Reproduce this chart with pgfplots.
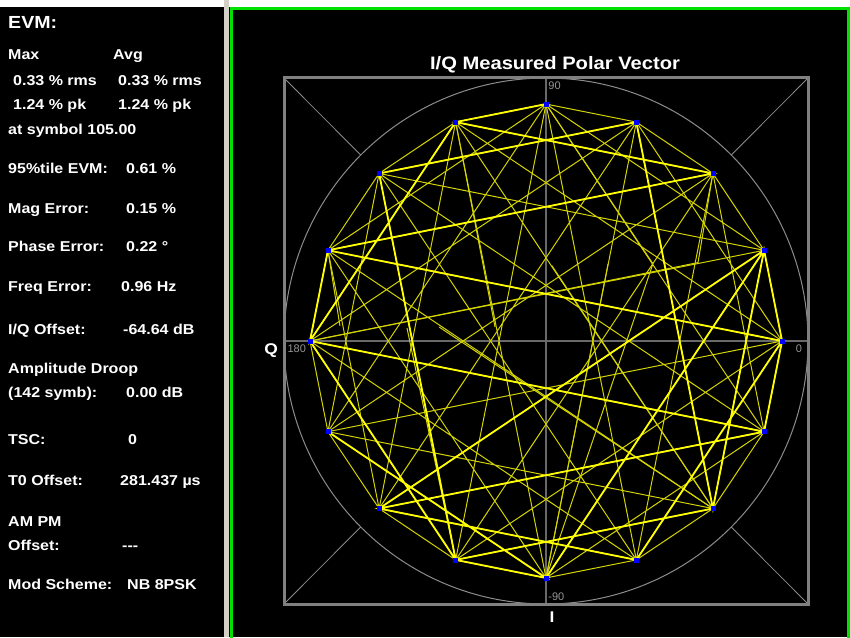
\documentclass[border=0pt]{standalone}
\usepackage{pgfplots}
\pgfplotsset{compat=1.18}
\usepackage{fontspec}
\setmainfont{Liberation Sans}
\newfontfamily\pf[FakeStretch=1.12]{Liberation Sans}
\definecolor{grn}{RGB}{0,225,0}
\definecolor{thinyel}{RGB}{212,212,0}
\definecolor{yel}{RGB}{255,255,0}
\definecolor{boxgray}{RGB}{128,128,128}
\definecolor{circgray}{RGB}{140,140,140}
\definecolor{crossgray}{RGB}{105,105,105}
\definecolor{labgray}{RGB}{150,150,150}
\definecolor{wingray}{RGB}{212,208,200}
\newcommand{\tx}[3]{\node[anchor=base west, inner sep=0pt, text=white, font=\pf\bfseries\fontsize{14.3}{14.3}\selectfont] at ({#1},{637-#2}) {#3};}
\begin{document}
\begin{tikzpicture}[x=1pt,y=1pt]
\useasboundingbox (0,0) rectangle (850,637);
\fill[white] (0,0) rectangle (850,637);
\fill[black] (0,0) rectangle (224,630);
\fill[wingray] (224,0) rectangle (229,637);
\fill[black] (229,0) rectangle (850,630);
\draw[grn, line width=3pt] (231.5,-5) -- (231.5,628.5) -- (848.5,628.5) -- (848.5,-5);
% left panel text
\node[anchor=base west, inner sep=0pt, text=white, font=\pf\bfseries\fontsize{17.5}{17.5}\selectfont] at (8,{637-29}) {EVM:};
\tx{8}{60}{Max}\tx{113}{60}{Avg}
\tx{13}{86}{0.33 \% rms}\tx{118}{86}{0.33 \% rms}
\tx{13}{110}{1.24 \% pk}\tx{118}{110}{1.24 \% pk}
\tx{8}{135}{at symbol 105.00}
\tx{8}{174}{95\%tile EVM:}\tx{126}{174}{0.61 \%}
\tx{8}{214}{Mag Error:}\tx{126}{214}{0.15 \%}
\tx{8}{252}{Phase Error:}\tx{126}{252}{0.22 °}
\tx{8}{292}{Freq Error:}\tx{121}{292}{0.96 Hz}
\tx{8}{335}{I/Q Offset:}\tx{123}{335}{-64.64 dB}
\tx{8}{374}{Amplitude Droop}
\tx{8}{398}{(142 symb):}\tx{126}{398}{0.00 dB}
\tx{8}{445}{TSC:}\tx{128}{445}{0}
\tx{8}{485}{T0 Offset:}\tx{120}{485}{281.437 µs}
\tx{8}{526}{AM PM}
\tx{8}{550}{Offset:}\tx{122}{550}{-{}-{}-}
\tx{8}{589}{Mod Scheme:}\tx{127}{589}{NB 8PSK}
% title
\node[anchor=base, inner sep=0pt, text=white, font=\pf\bfseries\fontsize{18}{18}\selectfont] at (555,{637-70}) {I/Q Measured Polar Vector};
\begin{axis}[at={(284pt,33pt)}, anchor=south west, scale only axis,
  width=524pt, height=526pt,
  xmin=-1.11, xmax=1.11, ymin=-1.11, ymax=1.11,
  hide axis, clip=false, unbounded coords=jump]
% grid decorations
\draw[circgray, line width=1pt] (axis cs:0,0) circle[radius=1.11];
\draw[circgray, line width=0.8pt] (axis cs:-1.11,1.11) -- (axis cs:-0.785,0.785);
\draw[circgray, line width=0.8pt] (axis cs:1.11,1.11) -- (axis cs:0.785,0.785);
\draw[circgray, line width=0.8pt] (axis cs:-1.11,-1.11) -- (axis cs:-0.785,-0.785);
\draw[circgray, line width=0.8pt] (axis cs:1.11,-1.11) -- (axis cs:0.785,-0.785);
\draw[crossgray, line width=1.6pt] (axis cs:-1.11,0) -- (axis cs:1.11,0);
\draw[crossgray, line width=1.6pt] (axis cs:0,-1.11) -- (axis cs:0,1.11);
\draw[boxgray, line width=3pt] (rel axis cs:0,0) rectangle (rel axis cs:1,1);
\node[anchor=north west, inner sep=1pt, text=labgray, font=\fontsize{11}{11}\selectfont] at (axis cs:0.005,1.098) {90};
\node[anchor=north east, inner sep=1pt, text=labgray, font=\fontsize{11}{11}\selectfont] at (axis cs:1.09,-0.012) {0};
\node[anchor=north west, inner sep=1pt, text=labgray, font=\fontsize{11}{11}\selectfont] at (axis cs:-1.1,-0.012) {180};
\node[anchor=south west, inner sep=1pt, text=labgray, font=\fontsize{11}{11}\selectfont] at (axis cs:0.005,-1.1) {-90};
\node[text=white, font=\pf\bfseries\fontsize{15.5}{15.5}\selectfont] at ([xshift=-13pt,yshift=-10pt]axis cs:-1.11,0) {Q};
\node[text=white, font=\pf\bfseries\fontsize{15.5}{15.5}\selectfont] at ([xshift=6pt,yshift=-13pt]axis cs:0,-1.11) {I};
% symbol trajectory: all transitions (thin)
\addplot[thinyel, line width=1pt, mark=none] coordinates {
(1,0) (0.9239,0.3827) (0.7071,0.7071) (0.3827,0.9239) (0,1) (-0.3827,0.9239) (-0.7071,0.7071) (-0.9239,0.3827)
(-1,0) (-0.9239,-0.3827) (-0.7071,-0.7071) (-0.3827,-0.9239) (0,-1) (0.3827,-0.9239) (0.7071,-0.7071) (0.9239,-0.3827) (1,0)
(0.3827,0.9239) (-0.7071,0.7071) (-0.9239,-0.3827) (0,-1) (0.9239,-0.3827) (0.7071,0.7071) (-0.3827,0.9239) (-1,0)
(-0.3827,-0.9239) (0.7071,-0.7071) (0.9239,0.3827) (0,1) (-0.9239,0.3827) (-0.7071,-0.7071) (0.3827,-0.9239) (1,0)
(-0.3827,0.9239) (-0.7071,-0.7071) (0.9239,-0.3827) (0,1) (-0.9239,-0.3827) (0.7071,-0.7071) (0.3827,0.9239) (-1,0)
(0.3827,-0.9239) (0.7071,0.7071) (-0.9239,0.3827) (0,-1) (0.9239,0.3827) (-0.7071,0.7071) (-0.3827,-0.9239) (1,0)
(-0.9239,0.3827) (0.7071,-0.7071) (-0.3827,0.9239) (0,-1) (0.3827,0.9239) (-0.7071,-0.7071) (0.9239,0.3827) (-1,0)
(0.9239,-0.3827) (-0.7071,0.7071) (0.3827,-0.9239) (0,1) (-0.3827,-0.9239) (0.7071,0.7071) (-0.9239,-0.3827) (1,0)
};
% partial transitions at burst edges
\addplot[thinyel, line width=1pt, mark=none] coordinates {
(-0.453,0.059) (0.7071,-0.7071) (nan,nan)
(0.025,0.318) (0.7071,-0.7071) (nan,nan)
(0.263,0.326) (0,-1) (nan,nan)
(-0.216,0.059) (-0.3827,0.9239) (nan,nan)
(-0.589,0.055) (-0.3827,-0.9239) (nan,nan)
(-0.873,0.064) (-0.9239,0.3827) (nan,nan)
(0,1) (0.453,0.326) (0,-1) (nan,nan)
(0.7071,0.7071) (0.644,0.331) (-1,0)
};
% frequent transitions (bright)
\addplot[yel, line width=1.8pt, mark=none] coordinates {
(0,1) (-0.3827,0.9239) (0.7071,0.7071) (-0.9239,0.3827) (-1,0) (-0.3827,0.9239) (nan,nan)
(-0.7071,0.7071) (0.3827,0.9239) (0.7071,-0.7071) (0.9239,0.3827) (1,0) (-0.9239,0.3827) (nan,nan)
(1,0) (0.9239,-0.3827) (-0.7071,-0.7071) (0.3827,-0.9239) (nan,nan)
(0.7071,-0.7071) (-0.3827,-0.9239) (-1,0) (0.9239,-0.3827) (nan,nan)
(0.9239,0.3827) (-0.7071,-0.7071) (nan,nan)
(-0.9239,-0.3827) (0,-1) (-0.3827,-0.9239) (nan,nan)
(0,-1) (0.9239,0.3827) (nan,nan)
(1,0) (0.3827,-0.9239) (nan,nan)
(-0.7071,0.7071) (-0.3827,-0.9239)
};
% constellation points
\addplot[only marks, mark=square*, mark size=2pt, blue, mark options={draw=blue, fill=blue}] coordinates {
(1,0) (0.9239,0.3827) (0.7071,0.7071) (0.3827,0.9239) (0,1) (-0.3827,0.9239) (-0.7071,0.7071) (-0.9239,0.3827)
(-1,0) (-0.9239,-0.3827) (-0.7071,-0.7071) (-0.3827,-0.9239) (0,-1) (0.3827,-0.9239) (0.7071,-0.7071) (0.9239,-0.3827)
};
\end{axis}
\end{tikzpicture}
\end{document}
